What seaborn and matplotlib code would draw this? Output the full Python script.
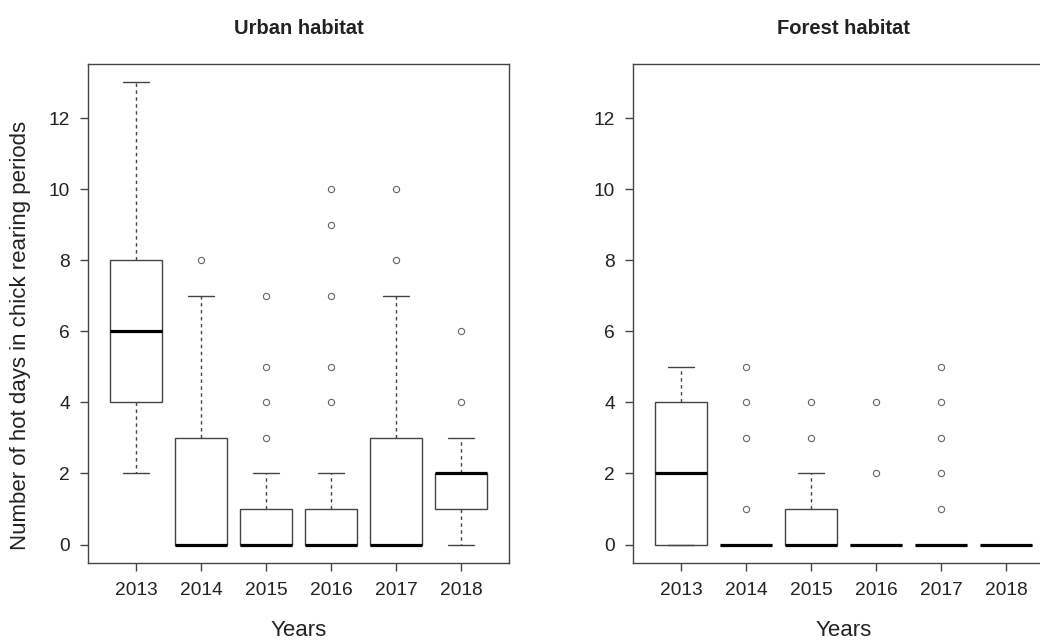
import matplotlib
matplotlib.use("Agg")
import matplotlib.pyplot as plt
import seaborn as sns
import pandas as pd

# Hot days during chick rearing, summarised per year (Tukey box statistics)
years = ["2013", "2014", "2015", "2016", "2017", "2018"]

urban_q1 = [4, 0, 0, 0, 0, 1]
urban_median = [6, 0, 0, 0, 0, 2]
urban_q3 = [8, 3, 1, 1, 3, 2]
urban_whisker_lo = [2, 0, 0, 0, 0, 0]
urban_whisker_hi = [13, 7, 2, 2, 7, 3]
urban_outliers = [[], [8], [3, 4, 5, 7], [4, 5, 7, 9, 10], [8, 10], [4, 6]]

forest_q1 = [0, 0, 0, 0, 0, 0]
forest_median = [2, 0, 0, 0, 0, 0]
forest_q3 = [4, 0, 1, 0, 0, 0]
forest_whisker_lo = [0, 0, 0, 0, 0, 0]
forest_whisker_hi = [5, 0, 2, 0, 0, 0]
forest_outliers = [[], [1, 3, 4, 5], [3, 4], [2, 4], [1, 2, 3, 4, 5], []]


def observations(q1, med, q3, lo, hi, extra, k=20):
    """Long-form rows whose quartiles, whisker ends and outliers equal the summary."""
    rows = []
    for yr, a, m, b, w0, w1, out in zip(years, q1, med, q3, lo, hi, extra):
        vals = [w0] + [a] * k + [m] * k + [b] * k + [w1] + list(out)
        rows += [(yr, v) for v in vals]
    return pd.DataFrame(rows, columns=["year", "days"])


urban = observations(urban_q1, urban_median, urban_q3,
                     urban_whisker_lo, urban_whisker_hi, urban_outliers)
forest = observations(forest_q1, forest_median, forest_q3,
                      forest_whisker_lo, forest_whisker_hi, forest_outliers)

sns.set_style("white")
plt.rcParams["font.family"] = ["Liberation Sans", "DejaVu Sans"]

W, H = 1040, 643
fig = plt.figure(figsize=(W / 100, H / 100), dpi=100)
frame_col = "#444444"
text_col = "#222222"

ax_l = fig.add_axes([88 / W, 1 - 563 / H, 421 / W, 499 / H])
ax_r = fig.add_axes([633 / W, 1 - 563 / H, 421 / W, 499 / H])

box_kws = dict(
    order=years, color="white", linecolor=frame_col, linewidth=1.0,
    width=0.8, whis=1.5,
    medianprops=dict(color="black", linewidth=2.3, solid_capstyle="butt"),
    whiskerprops=dict(color=frame_col, linewidth=1.0, linestyle=(0, (2.5, 2.5))),
    capprops=dict(color=frame_col, linewidth=1.0),
    flierprops=dict(marker="o", markersize=4.5, markerfacecolor="none",
                    markeredgecolor="#666666", markeredgewidth=0.8),
)

for ax, df, title in [(ax_l, urban, "Urban habitat"), (ax_r, forest, "Forest habitat")]:
    sns.boxplot(data=df, x="year", y="days", ax=ax, **box_kws)
    ax.set_xlim(-0.74, 5.74)
    ax.set_ylim(-0.52, 13.52)
    ax.set_yticks(range(0, 13, 2))
    ax.set_title(title, fontsize=14.5, fontweight="bold", color=text_col, pad=21.5)
    ax.set_xlabel("Years", fontsize=16, color=text_col)
    ax.xaxis.set_label_coords(0.5, -0.114)
    ax.set_ylabel("")
    ax.tick_params(axis="both", direction="out", length=6, width=1.0,
                   color=frame_col, labelsize=13.8, labelcolor=text_col,
                   left=True, bottom=True)
    ax.tick_params(axis="x", pad=8)
    ax.tick_params(axis="y", pad=7)
    for sp in ax.spines.values():
        sp.set_visible(True)
        sp.set_color(frame_col)
        sp.set_linewidth(1.0)

ax_l.set_ylabel("Number of hot days in chick rearing periods", fontsize=16,
                color=text_col)
ax_l.yaxis.set_label_coords(-0.136, 0.457)

fig.savefig("out.png", dpi=100, facecolor="white")
